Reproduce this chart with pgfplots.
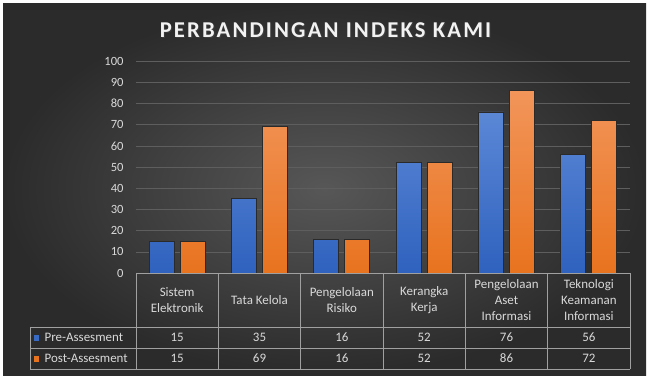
\documentclass[border=0pt]{standalone}
\usepackage{pgfplots}
\pgfplotsset{compat=1.18}
\usepackage{fontspec}
\setmainfont{Carlito}
\definecolor{bgin}{HTML}{575757}
\definecolor{bgout}{HTML}{2B2B2B}
\definecolor{txt}{HTML}{D9D9D9}
\definecolor{gridc}{HTML}{5E5E5E}
\definecolor{tline}{HTML}{A0A0A0}
\definecolor{blueT}{HTML}{5B87D6}
\definecolor{blueB}{HTML}{2F62BE}
\definecolor{orT}{HTML}{F2955A}
\definecolor{orB}{HTML}{E8731F}
\definecolor{shadow}{HTML}{2A2A2A}
\begin{document}
\begin{tikzpicture}[x=1bp,y=1bp]
\fill[white] (0,0) rectangle (650,-378);
\shade[inner color=bgin, outer color=bgout] (3,-3) rectangle (646,-375);
\node[font=\bfseries\fontsize{22.7}{23}\selectfont\addfontfeature{LetterSpace=9.5}, text=black!70, opacity=0.5] at (326.5,-31) {PERBANDINGAN INDEKS KAMI};
\node[font=\bfseries\fontsize{22.7}{23}\selectfont\addfontfeature{LetterSpace=9.5}, text=white!95!black] at (325.5,-30) {PERBANDINGAN INDEKS KAMI};
\begin{axis}[
  at={(136bp,-273bp)}, anchor=south west,
  width=494bp, height=212bp, scale only axis,
  xmin=-0.5, xmax=5.5, ymin=0, ymax=100,
  ytick={0,10,...,100},
  xtick=\empty,
  axis line style={draw=none},
  ymajorgrids, grid style={gridc, line width=0.6bp},
  major tick length=0pt,
  yticklabel style={text=txt, font=\fontsize{12.6}{12.6}\selectfont, xshift=-9bp},
  /pgf/number format/assume math mode=true,
  ytick style={draw=none},
  ybar=6bp, bar width=25bp,
  clip=false,
]
\addplot[draw=shadow, line width=0.7bp, top color=blueT, bottom color=blueB] coordinates {(0,15) (1,35) (2,16) (3,52) (4,76) (5,56)};
\addplot[draw=shadow, line width=0.7bp, top color=orT, bottom color=orB] coordinates {(0,15) (1,69) (2,16) (3,52) (4,86) (5,72)};
\end{axis}
% table grid
\begin{scope}[tline, line width=0.7bp]
\draw (136,-273)--(630,-273);
\draw (30,-327)--(630,-327);
\draw (30,-348)--(630,-348);
\draw (30,-369)--(630,-369);
\draw (30,-327)--(30,-369);
\foreach \i in {0,...,6} { \draw ({136+82.333*\i},-273)--({136+82.333*\i},-369); }
\end{scope}
\begin{scope}[every node/.style={text=txt, font=\fontsize{13}{16}\selectfont, align=center, inner sep=0pt}]
\foreach \lab [count=\i from 0] in {{Sistem\\Elektronik},{Tata Kelola},{Pengelolaan\\Risiko},{Kerangka\\Kerja},{Pengelolaan\\Aset\\Informasi},{Teknologi\\Keamanan\\Informasi}}
  { \node at ({136+82.333*(\i+0.5)},-300) {\lab}; }
\foreach \v [count=\i from 0] in {15,35,16,52,76,56}
  { \node at ({136+82.333*(\i+0.5)},-337.5) {\v}; }
\foreach \v [count=\i from 0] in {15,69,16,52,86,72}
  { \node at ({136+82.333*(\i+0.5)},-358.5) {\v}; }
\fill[blueB!80!blueT] (33.5,-334.8) rectangle (39.3,-340.6);
\fill[orB] (33.5,-355.8) rectangle (39.3,-361.6);
\node[anchor=west] at (44.5,-337.5) {Pre-Assesment};
\node[anchor=west] at (44.5,-358.5) {Post-Assesment};
\end{scope}
\end{tikzpicture}
\end{document}
